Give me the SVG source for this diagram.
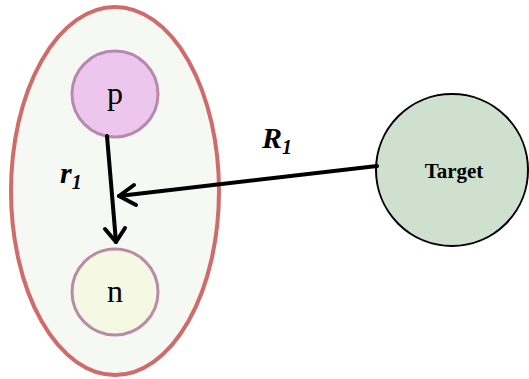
<svg xmlns="http://www.w3.org/2000/svg" width="529" height="379" viewBox="0 0 529 379">
<style>
.lbl{font-family:"Liberation Serif",serif;fill:#000}
.node{font-family:"Liberation Serif",serif;font-size:32px;text-anchor:middle}
.edge{stroke:#000;stroke-width:4;fill:none;stroke-linecap:round;stroke-linejoin:round}
</style>
<rect width="529" height="379" fill="#fff"/>
<g id="group">
<ellipse cx="115" cy="191" rx="104" ry="184" fill="#f6f8f4" stroke="#d06b6b" stroke-width="4"/>
</g>
<g id="node-p">
<circle cx="115" cy="94" r="43" fill="#ecc6ec" stroke="#b889b0" stroke-width="3"/>
<text class="node" x="115" y="104">p</text>
</g>
<g id="node-n">
<circle cx="115" cy="292" r="43" fill="#f5f8e2" stroke="#b88ca8" stroke-width="3"/>
<text class="node" x="115" y="302">n</text>
</g>
<g id="node-target">
<circle cx="452" cy="170" r="76" fill="#cfe0cf" stroke="#000" stroke-width="2"/>
<text class="lbl" x="454" y="178" font-size="21" font-weight="bold" text-anchor="middle">Target</text>
</g>
<g id="connectors">
<path class="edge" d="M107 136 L116 242"/>
<path class="edge" d="M105 229 L116 242 L125 228"/>
<path class="edge" d="M377 166 L119 196"/>
<path class="edge" d="M134 185 L119 196 L136 205"/>
</g>
<g id="labels">
<text class="lbl" x="262" y="148" font-size="30" font-weight="bold" font-style="italic">R<tspan font-size="20" dy="6">1</tspan></text>
<text class="lbl" x="60" y="183" font-size="30" font-weight="bold" font-style="italic">r<tspan font-size="20" dy="6">1</tspan></text>
</g>
</svg>
